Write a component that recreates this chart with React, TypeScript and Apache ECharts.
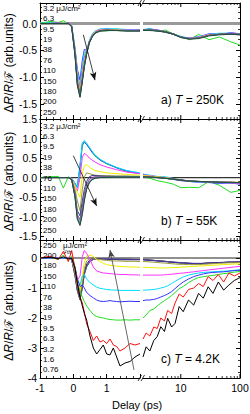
import React, { useEffect, useRef } from 'react';
import * as echarts from 'echarts';

const FONT = "'Liberation Sans', Arial, Helvetica, sans-serif";

// ---------------- data ----------------
const fluenceAB = ['3.2', '6.3', '9.5', '19', '38', '76', '110', '150', '180', '200', '250'];
const fluenceC = ['250', '200', '180', '150', '110', '76', '38', '19', '9.5', '6.3', '3.2', '1.6', '0.76'];

const fluenceColors: Record<string, string> = {
  '0.76': '#000000', '1.6': '#ff1010', '3.2': '#22dd22', '6.3': '#3333ff', '9.5': '#00ddff',
  '19': '#ff33ff', '38': '#eeee00', '76': '#999933', '110': '#333399', '150': '#993399',
  '180': '#339999', '200': '#666666', '250': '#1f4f3f',
};

const timeLinAB = [-1, -0.7, -0.45, -0.3, -0.15, -0.05, 0.05, 0.12, 0.2, 0.27, 0.33, 0.4, 0.48, 0.56, 0.65, 0.8, 1.0, 1.3, 1.6, 2.0];
const timeLogAB = [2.3, 3, 4, 5.5, 7.5, 10, 14, 20, 30, 45, 70, 100];

// panel a) T = 250K, rows follow fluenceAB
const aLin = [
  [0.0, 0.04, 0.02, 0.05, 0.0, -0.06, -0.5, -0.95, -1.28, -0.95, -0.62, -0.5, -0.33, -0.24, -0.16, -0.12, -0.14, -0.1, -0.14, -0.11],
  [0.0, 0.0, 0.01, 0.0, 0.01, -0.04, -0.45, -0.85, -1.05, -0.68, -0.48, -0.5, -0.33, -0.21, -0.15, -0.11, -0.1, -0.11, -0.12, -0.12],
  [0.0, 0.01, 0.0, 0.01, 0.0, -0.04, -0.48, -0.9, -1.15, -0.78, -0.55, -0.5, -0.32, -0.2, -0.14, -0.1, -0.1, -0.1, -0.11, -0.12],
  [0.0, 0.0, 0.01, 0.0, 0.01, -0.05, -0.5, -0.95, -1.22, -0.88, -0.65, -0.52, -0.33, -0.22, -0.15, -0.11, -0.11, -0.12, -0.12, -0.12],
  [0.0, 0.0, 0.0, 0.01, 0.0, -0.05, -0.52, -1.0, -1.27, -0.95, -0.7, -0.53, -0.34, -0.23, -0.16, -0.12, -0.12, -0.12, -0.13, -0.13],
  [0.0, 0.0, 0.0, 0.0, 0.0, -0.05, -0.54, -1.05, -1.3, -1.0, -0.74, -0.54, -0.34, -0.24, -0.17, -0.13, -0.12, -0.12, -0.13, -0.13],
  [0.0, 0.0, 0.0, 0.0, 0.0, -0.05, -0.55, -1.08, -1.32, -1.03, -0.77, -0.55, -0.35, -0.24, -0.17, -0.13, -0.12, -0.13, -0.13, -0.13],
  [0.0, 0.0, 0.0, 0.0, 0.0, -0.05, -0.56, -1.1, -1.34, -1.05, -0.78, -0.55, -0.35, -0.25, -0.18, -0.13, -0.13, -0.13, -0.13, -0.13],
  [0.0, 0.0, 0.0, 0.0, 0.0, -0.06, -0.57, -1.12, -1.35, -1.06, -0.79, -0.56, -0.36, -0.25, -0.18, -0.14, -0.13, -0.13, -0.13, -0.14],
  [0.0, 0.0, 0.0, 0.0, 0.0, -0.06, -0.58, -1.13, -1.36, -1.07, -0.8, -0.56, -0.36, -0.25, -0.18, -0.14, -0.13, -0.13, -0.14, -0.14],
  [0.0, 0.0, 0.0, 0.0, 0.0, -0.06, -0.6, -1.15, -1.37, -1.08, -0.8, -0.56, -0.36, -0.26, -0.18, -0.14, -0.13, -0.13, -0.14, -0.14],
];
const aLog = [
  [-0.12, -0.1, -0.15, -0.12, -0.2, -0.24, -0.3, -0.2, -0.3, -0.25, -0.34, -0.4],
  [-0.12, -0.1, -0.12, -0.15, -0.2, -0.25, -0.27, -0.25, -0.19, -0.2, -0.17, -0.19],
  [-0.11, -0.1, -0.12, -0.15, -0.19, -0.24, -0.27, -0.24, -0.2, -0.18, -0.18, -0.2],
  [-0.12, -0.11, -0.12, -0.15, -0.2, -0.25, -0.27, -0.25, -0.2, -0.2, -0.18, -0.2],
  [-0.12, -0.12, -0.13, -0.15, -0.19, -0.25, -0.28, -0.26, -0.21, -0.2, -0.19, -0.2],
  [-0.12, -0.12, -0.13, -0.15, -0.19, -0.25, -0.28, -0.27, -0.22, -0.2, -0.19, -0.2],
  [-0.12, -0.12, -0.13, -0.15, -0.19, -0.25, -0.28, -0.27, -0.22, -0.2, -0.19, -0.2],
  [-0.12, -0.12, -0.13, -0.16, -0.2, -0.25, -0.28, -0.27, -0.22, -0.2, -0.19, -0.2],
  [-0.12, -0.12, -0.13, -0.16, -0.2, -0.25, -0.28, -0.27, -0.22, -0.2, -0.2, -0.2],
  [-0.13, -0.12, -0.14, -0.16, -0.2, -0.26, -0.29, -0.27, -0.22, -0.2, -0.2, -0.21],
  [-0.13, -0.13, -0.14, -0.16, -0.2, -0.26, -0.29, -0.28, -0.23, -0.21, -0.2, -0.21],
];

// panel b) T = 55K, rows follow fluenceAB
const bLin = [
  [0.0, 0.02, 0.03, -0.27, 0.02, -0.03, -0.15, -0.25, 0.25, 0.8, 0.92, 0.85, 0.75, 0.65, 0.55, 0.45, 0.35, 0.25, 0.15, 0.1],
  [0.0, 0.0, 0.0, 0.0, 0.0, -0.02, -0.15, -0.25, 0.3, 0.86, 0.9, 0.85, 0.75, 0.65, 0.57, 0.45, 0.36, 0.25, 0.17, 0.1],
  [0.0, 0.0, 0.0, 0.0, 0.0, -0.02, -0.15, -0.25, 0.32, 0.9, 0.95, 0.88, 0.78, 0.68, 0.58, 0.47, 0.37, 0.26, 0.18, 0.12],
  [0.0, 0.0, 0.0, 0.0, 0.0, -0.03, -0.2, -0.35, 0.0, 0.52, 0.62, 0.58, 0.5, 0.45, 0.4, 0.33, 0.27, 0.2, 0.14, 0.1],
  [0.0, 0.0, 0.0, 0.0, 0.0, -0.03, -0.22, -0.38, -0.5, 0.1, 0.3, 0.33, 0.27, 0.22, 0.18, 0.15, 0.12, 0.1, 0.08, 0.06],
  [0.0, 0.0, 0.0, 0.0, 0.0, -0.04, -0.3, -0.6, -0.85, -0.3, 0.02, 0.12, 0.1, 0.08, 0.06, 0.05, 0.05, 0.04, 0.04, 0.03],
  [0.0, 0.0, 0.0, 0.0, 0.0, -0.05, -0.4, -0.85, -0.98, -0.6, -0.3, -0.1, 0.02, 0.05, 0.05, 0.04, 0.03, 0.03, 0.03, 0.02],
  [0.0, 0.0, 0.0, 0.0, 0.0, -0.05, -0.45, -0.95, -1.08, -0.75, -0.42, -0.18, -0.05, 0.0, 0.02, 0.02, 0.02, 0.02, 0.02, 0.02],
  [0.0, 0.0, 0.0, 0.0, 0.0, -0.05, -0.48, -1.0, -1.15, -0.85, -0.5, -0.25, -0.1, -0.03, 0.0, 0.01, 0.01, 0.02, 0.02, 0.02],
  [0.0, 0.0, 0.0, 0.0, 0.0, -0.05, -0.5, -1.05, -1.2, -0.9, -0.55, -0.28, -0.12, -0.05, -0.01, 0.0, 0.01, 0.01, 0.01, 0.01],
  [0.0, 0.0, 0.0, 0.0, 0.0, -0.05, -0.5, -1.07, -1.23, -0.95, -0.6, -0.3, -0.14, -0.06, -0.02, 0.0, 0.0, 0.01, 0.01, 0.01],
];
const bLog = [
  [0.02, -0.02, -0.08, -0.12, -0.17, -0.26, -0.25, -0.26, -0.1, -0.2, -0.38, -0.33],
  [0.08, 0.05, 0.02, -0.02, -0.05, -0.08, -0.1, -0.12, -0.13, -0.15, -0.14, -0.17],
  [0.09, 0.06, 0.03, 0.02, -0.02, -0.06, -0.1, -0.12, -0.12, -0.13, -0.14, -0.15],
  [0.07, 0.05, 0.02, 0.0, -0.03, -0.07, -0.1, -0.11, -0.12, -0.13, -0.14, -0.15],
  [0.05, 0.04, 0.02, 0.0, -0.03, -0.06, -0.09, -0.1, -0.1, -0.12, -0.12, -0.12],
  [0.03, 0.02, 0.01, -0.01, -0.03, -0.06, -0.09, -0.1, -0.11, -0.12, -0.12, -0.13],
  [0.02, 0.01, 0.0, -0.02, -0.04, -0.06, -0.09, -0.1, -0.11, -0.12, -0.12, -0.13],
  [0.02, 0.01, 0.0, -0.02, -0.04, -0.06, -0.09, -0.1, -0.11, -0.12, -0.12, -0.13],
  [0.02, 0.01, 0.0, -0.02, -0.04, -0.07, -0.09, -0.1, -0.11, -0.12, -0.13, -0.13],
  [0.02, 0.01, 0.0, -0.02, -0.04, -0.07, -0.09, -0.1, -0.11, -0.12, -0.13, -0.13],
  [0.02, 0.01, 0.0, -0.02, -0.04, -0.07, -0.09, -0.1, -0.11, -0.12, -0.13, -0.13],
];

// panel c) T = 4.2K, rows follow fluenceC
const timeLinC = [-1, -0.7, -0.45, -0.3, -0.15, -0.05, 0.05, 0.12, 0.2, 0.27, 0.33, 0.4, 0.5, 0.6, 0.7, 0.8, 0.9, 1.0, 1.1, 1.2, 1.3, 1.4, 1.55, 1.7, 1.85, 2.0];
const timeLogC = [2.3, 2.6, 3, 3.5, 4, 4.6, 5.3, 6, 7, 8, 9.4, 11, 13.5, 16.5, 20, 24, 29, 35, 43, 53, 65, 80, 100];
const cLin = [
  [0, 0, 0.01, 0, 0, -0.05, -0.6, -1.1, -1.4, -1.0, -0.55, -0.3, -0.12, -0.05, -0.03, -0.02, -0.02, -0.02, -0.03, -0.03, -0.03, -0.04, -0.04, -0.04, -0.05, -0.05],
  [0, 0, 0, 0, 0, -0.05, -0.58, -1.08, -1.38, -0.98, -0.53, -0.28, -0.11, -0.04, -0.02, -0.02, -0.02, -0.03, -0.03, -0.03, -0.04, -0.04, -0.04, -0.05, -0.05, -0.05],
  [0, 0, 0, 0, 0, -0.05, -0.56, -1.06, -1.36, -0.96, -0.52, -0.27, -0.1, -0.04, -0.02, -0.02, -0.03, -0.03, -0.03, -0.04, -0.04, -0.04, -0.05, -0.05, -0.05, -0.05],
  [0, 0, 0, 0, 0, -0.05, -0.55, -1.05, -1.35, -0.95, -0.5, -0.25, -0.1, -0.04, -0.02, -0.02, -0.03, -0.03, -0.03, -0.04, -0.04, -0.04, -0.05, -0.05, -0.05, -0.05],
  [0, 0, 0, 0, 0, -0.05, -0.5, -1.0, -1.3, -0.9, -0.45, -0.2, -0.05, 0.0, -0.02, -0.03, -0.04, -0.04, -0.05, -0.05, -0.05, -0.06, -0.06, -0.06, -0.06, -0.06],
  [0, 0, 0, 0, 0, -0.05, -0.45, -0.95, -1.25, -0.8, -0.35, -0.1, 0.0, 0.0, -0.03, -0.05, -0.07, -0.08, -0.09, -0.1, -0.1, -0.1, -0.11, -0.11, -0.11, -0.12],
  [0, 0, 0.01, 0, 0, -0.04, -0.4, -0.85, -1.1, -0.6, -0.15, 0.05, 0.1, 0.05, -0.05, -0.12, -0.18, -0.22, -0.24, -0.26, -0.27, -0.28, -0.29, -0.3, -0.3, -0.31],
  [0, 0, 0, 0.02, 0, -0.03, -0.35, -0.75, -0.6, 0.05, 0.25, 0.15, -0.05, -0.3, -0.43, -0.47, -0.5, -0.51, -0.52, -0.53, -0.54, -0.55, -0.55, -0.56, -0.56, -0.57],
  [0, 0, 0, 0, 0, -0.03, -0.3, -0.7, -0.9, -0.6, -0.55, -0.7, -0.82, -0.9, -0.97, -1.01, -1.03, -1.05, -1.06, -1.07, -1.07, -1.08, -1.08, -1.08, -1.08, -1.08],
  [0, 0, 0, 0, 0, -0.03, -0.3, -0.7, -0.95, -0.9, -1.0, -1.15, -1.25, -1.33, -1.4, -1.44, -1.45, -1.44, -1.42, -1.44, -1.45, -1.46, -1.45, -1.44, -1.45, -1.45],
  [0, 0.03, -0.05, 0.1, -0.08, 0.05, -0.3, -0.8, -1.1, -1.3, -1.45, -1.6, -1.75, -1.88, -1.95, -1.98, -2.0, -2.03, -2.05, -2.06, -2.07, -2.07, -2.06, -2.07, -2.06, -2.06],
  [0, 0.06, -0.05, 0.22, -0.12, 0.25, -0.35, -0.8, -1.3, -1.5, -1.8, -2.2, -2.45, -2.75, -2.6, -2.8, -2.75, -2.85, -2.7, -2.9, -2.95, -3.1, -3.0, -2.85, -2.9, -2.85],
  [0, 0.02, -0.02, 0.04, -0.03, 0, -0.35, -0.85, -1.3, -1.6, -1.85, -2.07, -2.6, -3.0, -3.2, -3.05, -2.9, -3.2, -3.23, -3.0, -3.3, -3.6, -3.5, -3.45, -3.3, -3.2],
];
const cLog = [
  [-0.05, -0.06, -0.07, -0.08, -0.09, -0.1, -0.11, -0.12, -0.14, -0.15, -0.16, -0.17, -0.18, -0.19, -0.19, -0.18, -0.17, -0.16, -0.15, -0.15, -0.14, -0.14, -0.13],
  [-0.05, -0.06, -0.07, -0.08, -0.09, -0.1, -0.11, -0.12, -0.14, -0.15, -0.16, -0.17, -0.18, -0.19, -0.19, -0.18, -0.17, -0.16, -0.15, -0.15, -0.14, -0.14, -0.13],
  [-0.05, -0.06, -0.07, -0.08, -0.09, -0.1, -0.11, -0.12, -0.13, -0.14, -0.15, -0.16, -0.17, -0.18, -0.18, -0.18, -0.17, -0.16, -0.15, -0.15, -0.14, -0.14, -0.13],
  [-0.05, -0.06, -0.07, -0.08, -0.09, -0.1, -0.11, -0.12, -0.13, -0.14, -0.15, -0.16, -0.17, -0.18, -0.18, -0.18, -0.17, -0.16, -0.15, -0.14, -0.14, -0.13, -0.13],
  [-0.06, -0.07, -0.08, -0.09, -0.1, -0.11, -0.12, -0.13, -0.14, -0.15, -0.16, -0.17, -0.18, -0.19, -0.19, -0.18, -0.17, -0.16, -0.15, -0.15, -0.14, -0.14, -0.13],
  [-0.12, -0.12, -0.13, -0.14, -0.15, -0.16, -0.17, -0.18, -0.19, -0.2, -0.21, -0.21, -0.22, -0.22, -0.22, -0.21, -0.2, -0.19, -0.18, -0.17, -0.16, -0.16, -0.15],
  [-0.31, -0.31, -0.32, -0.32, -0.33, -0.33, -0.33, -0.33, -0.32, -0.32, -0.31, -0.3, -0.29, -0.28, -0.27, -0.26, -0.25, -0.24, -0.23, -0.22, -0.21, -0.2, -0.2],
  [-0.57, -0.57, -0.57, -0.57, -0.57, -0.57, -0.56, -0.55, -0.54, -0.53, -0.51, -0.5, -0.48, -0.46, -0.44, -0.42, -0.4, -0.38, -0.36, -0.34, -0.32, -0.3, -0.28],
  [-1.07, -1.07, -1.06, -1.05, -1.03, -1.0, -0.97, -0.93, -0.85, -0.78, -0.7, -0.63, -0.57, -0.53, -0.5, -0.48, -0.47, -0.46, -0.45, -0.44, -0.43, -0.41, -0.4],
  [-1.42, -1.4, -1.4, -1.38, -1.35, -1.3, -1.25, -1.2, -1.12, -1.02, -0.9, -0.8, -0.7, -0.62, -0.57, -0.53, -0.5, -0.48, -0.47, -0.46, -0.44, -0.42, -0.4],
  [-2.0, -1.9, -1.75, -1.7, -1.6, -1.5, -1.42, -1.35, -1.25, -1.15, -1.02, -0.95, -0.82, -0.72, -0.65, -0.62, -0.6, -0.58, -0.55, -0.52, -0.5, -0.47, -0.45],
  [-2.7, -2.5, -2.6, -2.3, -2.35, -2.0, -2.1, -1.75, -1.85, -1.5, -1.2, -1.3, -1.05, -1.0, -0.85, -0.95, -0.62, -0.75, -0.55, -0.8, -0.5, -0.6, -0.5],
  [-3.3, -2.96, -3.1, -2.75, -2.62, -2.29, -2.45, -2.01, -2.3, -2.18, -1.62, -1.79, -1.4, -1.57, -1.18, -1.34, -0.96, -1.18, -0.8, -1.07, -0.9, -0.75, -0.65],
];

const linRange = [-1, 2];
const logRange = [2.3, 100];
const logTickValues = [3, 4, 5, 6, 7, 8, 9, 10, 20, 30, 40, 50, 60, 70, 80, 90, 100];
const panelTemps = ['250K', '55K', '4.2K'];
const panelLetters = ['a)', 'b)', 'c)'];
const yRanges = [[-1.77, 0.38], [-1.6, 1.5], [-4, 0.6]];
const arrows = [
  [[0.3, -0.21], [0.65, -1.05]],
  [[0.0, 0.56], [0.7, -0.73]],
  [[1.82, -3.73], [1.1, 0.27]],
];

// ---------------- layout ----------------
const panelTop = [3, 119, 240];
const panelHeight = [116, 121, 138];
const leftX = 40, leftW = 100, rightX = 143, rightW = 97;
const labelTop = [8.3, 126, 245];
const labelStep = 10.4;
const zeroStyles = [
  { color: '#9a9a9a', width: 3 },
  { color: '#333333', width: 1.2 },
  { color: '#222222', width: 1.2 },
];

function isMultiple(v: number, step: number) {
  return Math.abs(v / step - Math.round(v / step)) < 1e-6;
}

function buildOption() {
  const grid: any[] = [];
  const xAxis: any[] = [];
  const yAxis: any[] = [];
  const series: any[] = [];
  const graphic: any[] = [];

  const lineAx = { show: true, onZero: false, lineStyle: { color: '#000', width: 1 } };
  const tickAx = { show: true, inside: true, length: 4, lineStyle: { color: '#000', width: 1 } };
  const minorAx = { show: true, splitNumber: 5, length: 2, lineStyle: { color: '#000', width: 0.8 } };
  const labelBase = { color: '#000', fontSize: 10.5, fontFamily: FONT };

  for (let p = 0; p < 3; p++) {
    const top = panelTop[p];
    const h = panelHeight[p];
    const last = p === 2;
    const [ymin, ymax] = yRanges[p];
    grid.push({ left: leftX, top, width: leftW, height: h, containLabel: false, outerBoundsMode: 'none' });
    grid.push({ left: rightX, top, width: rightW, height: h, containLabel: false, outerBoundsMode: 'none' });
    const gL = p * 2, gR = p * 2 + 1;

    for (const pos of ['bottom', 'top']) {
      xAxis.push({
        type: 'value', gridIndex: gL, position: pos, min: linRange[0], max: linRange[1], interval: 1,
        axisLine: lineAx, axisTick: tickAx, minorTick: minorAx,
        splitLine: { show: false }, minorSplitLine: { show: false },
        axisLabel: { ...labelBase, show: last && pos === 'bottom', margin: 4, formatter: (v: number) => (v === 2 ? '' : String(v)) },
      });
    }
    for (const pos of ['bottom', 'top']) {
      xAxis.push({
        type: 'log', logBase: 10, gridIndex: gR, position: pos, min: logRange[0], max: logRange[1],
        axisLine: lineAx, axisTick: { show: false }, minorTick: { show: false },
        splitLine: { show: false }, minorSplitLine: { show: false },
        axisLabel: {
          ...labelBase, show: last && pos === 'bottom', margin: 4, showMinLabel: false, showMaxLabel: true,
          formatter: (v: number) => {
            const l = Math.log10(v);
            return v > 5 && Math.abs(l - Math.round(l)) < 1e-6 ? String(Math.round(v)) : '';
          },
        },
      });
    }
    const yFmt = p === 2
      ? (v: number) => (isMultiple(v, 1) ? String(Math.round(v)) : '')
      : (v: number) => (isMultiple(v, 0.5) ? (Math.abs(v) < 1e-9 ? '0.0' : v.toFixed(1)) : '');
    const yCommon: any = {
      type: 'value', min: ymin, max: ymax,
      axisLine: lineAx, axisTick: tickAx, minorTick: minorAx,
      splitLine: { show: false }, minorSplitLine: { show: false },
    };
    if (p === 2) yCommon.interval = 1;
    yAxis.push({ ...yCommon, gridIndex: gL, position: 'left', axisLabel: { ...labelBase, margin: 3, formatter: yFmt } });
    yAxis.push({ ...yCommon, gridIndex: gR, position: 'right', axisLabel: { show: false } });

    const xL = p * 4, xR = p * 4 + 2, yL = p * 2, yR = p * 2 + 1;

    // zero lines
    series.push({
      type: 'line', xAxisIndex: xL, yAxisIndex: yL, data: [[linRange[0], 0], [linRange[1], 0]],
      symbol: 'none', silent: true, z: 1, lineStyle: zeroStyles[p],
    });
    series.push({
      type: 'line', xAxisIndex: xR, yAxisIndex: yR, data: [[logRange[0], 0], [logRange[1], 0]],
      symbol: 'none', silent: true, z: 1, lineStyle: zeroStyles[p],
    });

    const fl = p === 2 ? fluenceC : fluenceAB;
    const lin = p === 0 ? aLin : p === 1 ? bLin : cLin;
    const lg = p === 0 ? aLog : p === 1 ? bLog : cLog;
    const tLin = p === 2 ? timeLinC : timeLinAB;
    const tLog = p === 2 ? timeLogC : timeLogAB;
    fl.forEach((f, i) => {
      const color = fluenceColors[f];
      series.push({
        type: 'line', xAxisIndex: xL, yAxisIndex: yL, symbol: 'none', silent: true, z: 2,
        data: tLin.map((t, k) => [t, lin[i][k]]), lineStyle: { color, width: 1 },
      });
      series.push({
        type: 'line', xAxisIndex: xR, yAxisIndex: yR, symbol: 'none', silent: true, z: 2,
        data: tLog.map((t, k) => [t, lg[i][k]]), lineStyle: { color, width: 1 },
      });
    });

    // arrow
    series.push({
      type: 'line', xAxisIndex: xL, yAxisIndex: yL, data: [], z: 5, silent: true,
      markLine: {
        silent: true, symbol: ['none', 'arrow'], symbolSize: [5, 8], label: { show: false },
        lineStyle: { color: p === 2 ? '#444' : '#111', width: 0.8, type: 'solid' },
        emphasis: { disabled: true },
        data: [[{ coord: arrows[p][0] }, { coord: arrows[p][1] }]],
      },
    });

    // log ticks
    series.push({
      type: 'custom', xAxisIndex: xR, yAxisIndex: yR, silent: true, z: 4,
      data: logTickValues.map((v) => [v, ymin]),
      renderItem: (params: any, api: any) => {
        const v = api.value(0);
        const major = v === 10 || v === 100;
        const len = major ? 4 : 2;
        const b = api.coord([v, ymin]);
        const t = api.coord([v, ymax]);
        return {
          type: 'group',
          children: [
            { type: 'line', shape: { x1: b[0], y1: b[1], x2: b[0], y2: b[1] - len }, style: { stroke: '#000', lineWidth: major ? 1 : 0.8 } },
            { type: 'line', shape: { x1: t[0], y1: t[1], x2: t[0], y2: t[1] + len }, style: { stroke: '#000', lineWidth: major ? 1 : 0.8 } },
          ],
        };
      },
    });

    // fluence labels
    fl.forEach((f, i) => {
      let text = f;
      if (i === 0) text = p === 2 ? f + '   μJ/cm²' : f + ' μJ/cm²';
      graphic.push({
        type: 'text', x: 43, y: labelTop[p] + i * labelStep, silent: true, z: 10,
        style: { text, fill: '#000', fontSize: 8, fontFamily: FONT, textAlign: 'left', textVerticalAlign: 'middle' },
      });
    });

    // panel label
    graphic.push({
      type: 'text', x: 161, y: top + h - 19, silent: true, z: 10,
      style: {
        text: panelLetters[p] + ' {i|T} = ' + panelTemps[p],
        fill: '#000', fontSize: 12, fontFamily: FONT, textAlign: 'left', textVerticalAlign: 'middle',
        rich: { i: { fontStyle: 'italic', fontSize: 12, fontFamily: FONT, fill: '#000' } },
      },
    });

    // y title
    graphic.push({
      type: 'text', x: 9, y: top + h / 2 + 2, rotation: Math.PI / 2, silent: true, z: 10,
      style: {
        text: 'Δ{i|R}/{i|R}/ℱ (arb.units)',
        fill: '#000', fontSize: 12, fontFamily: FONT, textAlign: 'center', textVerticalAlign: 'middle',
        rich: { i: { fontStyle: 'italic', fontSize: 12, fontFamily: FONT, fill: '#000' } },
      },
    });
  }

  // F_th mark in panel c
  graphic.push({
    type: 'text', x: 63, y: 251.5, silent: true, z: 10,
    style: { text: 'ℱth', fill: '#000', fontSize: 5, fontFamily: FONT, textAlign: 'left', textVerticalAlign: 'middle' },
  });

  // axis break marks
  for (const by of [3, 119, 240, 378]) {
    for (const dx of [0, 3]) {
      graphic.push({
        type: 'line', silent: true, z: 10,
        shape: { x1: 138 + dx, y1: by + 3, x2: 141.5 + dx, y2: by - 3 },
        style: { stroke: '#000', lineWidth: 0.8 },
      });
    }
  }

  // x title
  graphic.push({
    type: 'text', x: 137, y: 405, silent: true, z: 10,
    style: { text: 'Delay (ps)', fill: '#000', fontSize: 11, fontFamily: FONT, textAlign: 'center', textVerticalAlign: 'middle' },
  });

  return {
    animation: false,
    backgroundColor: '#ffffff',
    grid, xAxis, yAxis, series, graphic,
  };
}

export default function App() {
  const ref = useRef<HTMLDivElement>(null);
  useEffect(() => {
    document.body.style.margin = '0';
    if (!ref.current) return;
    const chart = echarts.init(ref.current, null, { renderer: 'svg' });
    chart.setOption(buildOption() as any);
    return () => chart.dispose();
  }, []);
  return <div ref={ref} style={{ width: 250, height: 414 }} />;
}
